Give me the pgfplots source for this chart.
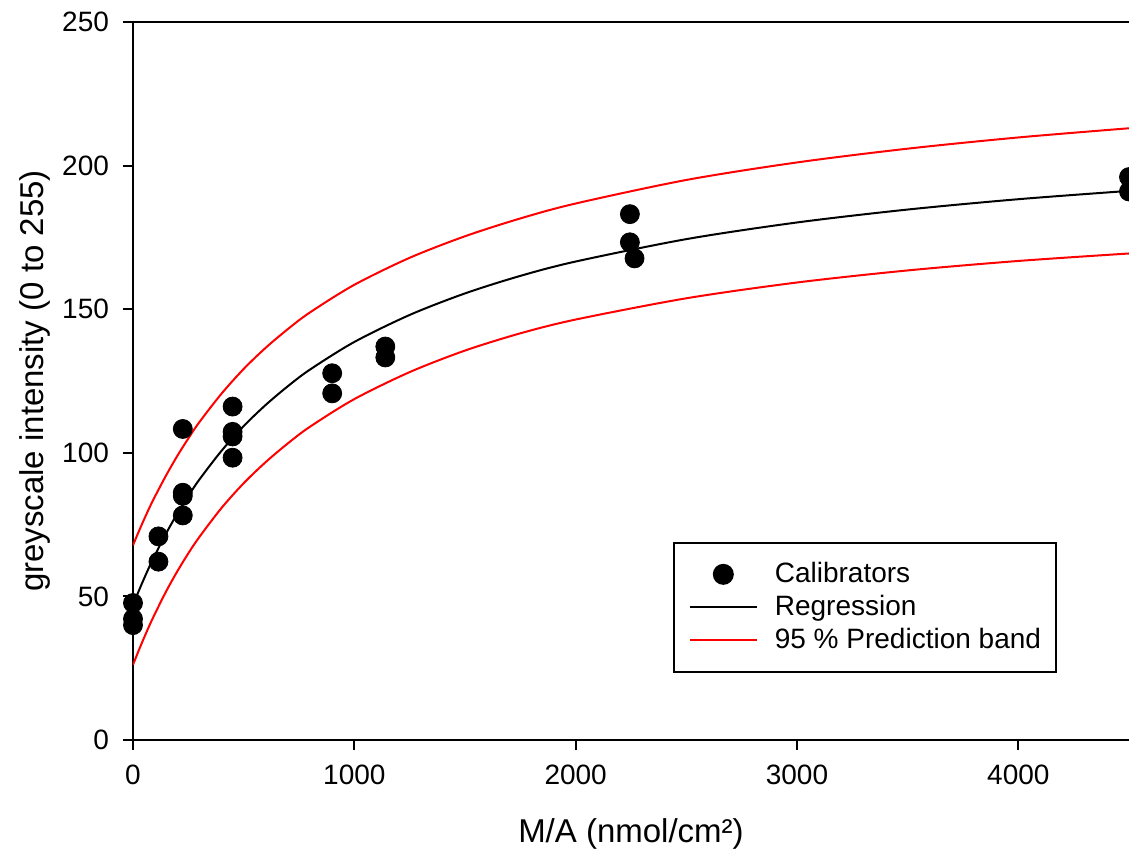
\documentclass[border=0pt]{standalone}
\usepackage{fontspec}
\setmainfont{Liberation Sans}
\usepackage{pgfplots}
\pgfplotsset{compat=1.18}
\pgfplotsset{
  linelegend/.style={legend image code/.code={\draw[##1] (0pt,0pt) -- (33.5pt,0pt);}},
  dotlegend/.style={legend image code/.code={\draw[##1] plot coordinates {(16.75pt,0pt)};}},
}
\begin{document}
\begin{tikzpicture}
\begin{axis}[
  scale only axis, width=498pt, height=359pt,
  xmin=0, xmax=4500, ymin=0, ymax=250,
  axis x line=box, axis y line=left,
  x axis line style={-}, y axis line style={-},
  axis line style={line width=1.2pt},
  xtick={0,1000,2000,3000,4000}, ytick={0,50,100,150,200,250},
  xtick pos=bottom, ytick pos=left,
  tick align=outside, major tick length=5pt,
  tick style={line width=1pt, black},
  /pgf/number format/assume math mode=true,
  /pgf/number format/1000 sep={},
  ticklabel style={font=\fontsize{14}{16}\selectfont},
  xticklabel style={yshift=-4pt},
  yticklabel style={xshift=-3.5pt},
  xlabel={M/A (nmol/cm²)}, ylabel={greyscale intensity (0 to 255)},
  every axis x label/.style={at={(rel axis cs:0.5,0)}, yshift=-47pt, anchor=center, font=\fontsize{16.5}{20}\selectfont},
  every axis y label/.style={at={(rel axis cs:0,0.5)}, xshift=-49pt, rotate=90, anchor=center, font=\fontsize{16.5}{20}\selectfont},
  legend style={at={(rel axis cs:0.542,0.276)}, anchor=north west, draw=black, line width=1pt,
    inner xsep=7.5pt, inner ysep=7.5pt, font=\fontsize{14}{16.5}\selectfont,
    nodes={inner sep=0pt, text height=12.5pt, text depth=4pt},
    cells={anchor=west}, row sep=0pt,
    /tikz/every odd column/.append style={column sep=8.5pt}},
]
\coordinate (SW) at (rel axis cs:0,0);
\coordinate (NE) at (rel axis cs:1,1);
\addplot[only marks, mark=*, mark size=4.75pt, black, dotlegend]
coordinates {
(0,47.7) (0,42.2) (0,40.0)
(115,70.9) (115,62.1)
(225,108.3) (225,86.1) (225,85.0) (225,78.2)
(450,116.1) (450,107.3) (450,105.7) (450,98.3)
(900,127.7) (900,120.7)
(1140,137.0) (1140,133.2)
(2245,183.1) (2245,173.3) (2266,167.7)
(4500,196.0) (4500,191.0)
};
\addlegendentry{Calibrators}
\addplot[black, line width=1pt, smooth, linelegend] coordinates {
(0,47.0) (25,51.7) (50,56.2) (75,60.5) (100,64.5) (150,72.0) (200,78.8) (250,85.0)
(300,90.7) (400,100.7) (500,109.3) (600,116.7) (700,123.2) (800,129.0)
(1000,138.6) (1250,148.0) (1500,155.5) (1750,161.6) (2000,166.6)
(2500,174.4) (3000,180.2) (3500,184.7) (4000,188.3) (4500,191.2)
};
\addlegendentry{Regression}
\addplot[red, line width=1pt, smooth, linelegend] coordinates {
(0,67.8) (25,72.4) (50,76.8) (75,81.0) (100,84.9) (150,92.2) (200,98.9) (250,105.0)
(300,110.7) (400,120.6) (500,129.2) (600,136.6) (700,143.1) (800,148.9)
(1000,158.5) (1250,167.9) (1500,175.4) (1750,181.6) (2000,186.8)
(2500,195.0) (3000,201.1) (3500,205.9) (4000,209.8) (4500,213.0)
};
\addlegendentry{95 \% Prediction band}
\addplot[red, line width=1pt, smooth, forget plot] coordinates {
(0,26.2) (25,31.0) (50,35.6) (75,40.0) (100,44.1) (150,51.8) (200,58.7) (250,65.0)
(300,70.7) (400,80.8) (500,89.4) (600,96.8) (700,103.3) (800,109.1)
(1000,118.7) (1250,128.1) (1500,135.6) (1750,141.6) (2000,146.4)
(2500,153.8) (3000,159.3) (3500,163.5) (4000,166.8) (4500,169.4)
};
\end{axis}
\pgfresetboundingbox
\path[use as bounding box] ([xshift=-66.5pt,yshift=-58.5pt]SW) rectangle ([yshift=11pt]NE);
\end{tikzpicture}
\end{document}
